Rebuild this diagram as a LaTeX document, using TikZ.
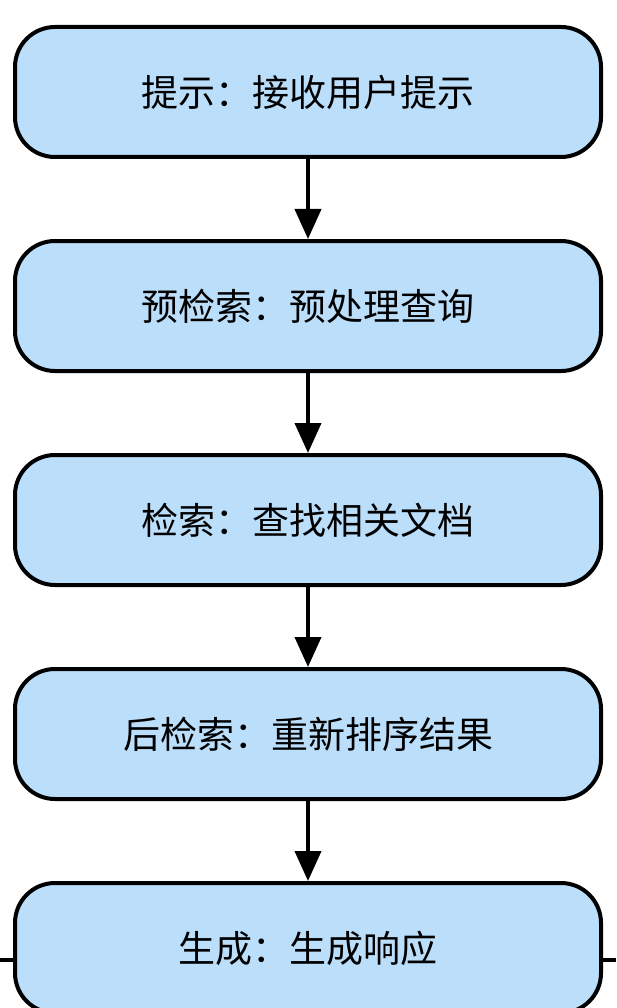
\documentclass[tikz,border=0pt]{standalone}
\usepackage{fontspec}
\newfontfamily\cjk{Noto Sans CJK SC}
\usetikzlibrary{positioning,arrows.meta}
\definecolor{boxblue}{RGB}{187,222,251}
\tikzset{
  stage/.style={draw=black, line width=4pt, fill=boxblue, rounded corners=40pt,
    minimum width=586pt, minimum height=130pt, font=\cjk\fontsize{37}{40}\selectfont},
  flow/.style={line width=4pt, -{Triangle[width=26pt,length=30pt]}}
}
\begin{document}
\begin{tikzpicture}[node distance=80pt]

    \useasboundingbox (0,0) rectangle (616pt,-1008pt);

    % 1. Các bước xử lý
    \node[stage] (prompt)  at (308pt,-92pt) {提示：接收用户提示};
    \node[stage, below=of prompt]  (pre)  {预检索：预处理查询};
    \node[stage, below=of pre]     (ret)  {检索：查找相关文档};
    \node[stage, below=of ret]     (post) {后检索：重新排序结果};
    \node[stage, below=of post]    (gen)  {生成：生成响应};

    % 2. Mũi tên nối các bước
    \draw[flow] (prompt) -- (pre);
    \draw[flow] (pre) -- (ret);
    \draw[flow] (ret) -- (post);
    \draw[flow] (post) -- (gen);

    % 3. Đường ngang ở hai bên bước cuối
    \coordinate (L) at (0,-960pt);
    \coordinate (R) at (616pt,-960pt);
    \draw[line width=4pt] (L) -- (L -| gen.west);
    \draw[line width=4pt] (R) -- (R -| gen.east);

\end{tikzpicture}
\end{document}
